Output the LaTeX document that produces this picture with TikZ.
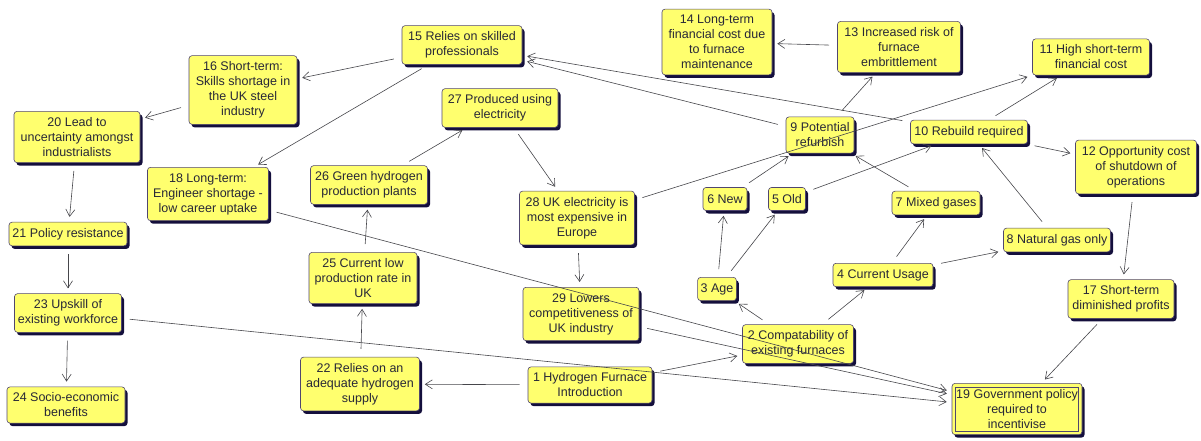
\documentclass[tikz,border=0pt]{standalone}
\usepackage{fontspec}
\setmainfont{Liberation Sans}
\usepackage{xcolor}
\usepackage{tikz}
\usetikzlibrary{positioning,arrows.meta,shadows}
\definecolor{noteyellow}{RGB}{255,255,110}
\definecolor{borderpurple}{RGB}{80,70,110}
\definecolor{shadowblue}{RGB}{20,15,60}
\definecolor{textgray}{RGB}{40,40,55}
\definecolor{linegray}{RGB}{70,70,75}

\begin{document}
\begin{tikzpicture}[x=1pt, y=-1pt, node distance=100pt, >={Straight Barb[length=7pt,width=9pt]}]
    \tikzstyle{concept} = [rectangle, rounded corners=3pt, draw=borderpurple, line width=0.6pt, fill=noteyellow, text=textgray, align=center, font=\fontsize{12.5}{15}\selectfont, inner xsep=3pt, inner ysep=6pt, minimum height=23pt, drop shadow={shadow xshift=2.5pt, shadow yshift=-3pt, fill=shadowblue, opacity=1}]
    \tikzstyle{influence} = [->, draw=linegray, line width=0.6pt, shorten <=8pt, shorten >=5pt]
    \useasboundingbox (0,0) rectangle (1201,441);

    % Introduction and supply chain
    \node [concept, minimum width=124pt] (n1) at (590,385) {1 Hydrogen Furnace\\Introduction};
    \node [concept, minimum width=119pt, left of=n1, xshift=-130pt, yshift=1pt] (n22) {22 Relies on an\\adequate hydrogen\\supply};
    \node [concept, minimum width=108pt, above of=n22, xshift=3pt, yshift=6pt] (n25) {25 Current low\\production rate in\\UK};
    \node [concept, minimum width=117pt, above of=n25, xshift=6pt, yshift=-7pt] (n26) {26 Green hydrogen\\production plants};
    \node [concept, minimum width=116pt, above of=n1, xshift=-9pt, yshift=-29pt] (n29) {29 Lowers\\competitiveness of\\UK industry};
    \node [concept, minimum width=115pt, above of=n29, xshift=-4pt, yshift=-4pt] (n28) {28 UK electricity is\\most expensive in\\Europe};
    \node [concept, minimum width=116pt, above of=n28, xshift=-77pt, yshift=10pt] (n27) {27 Produced using\\electricity};

    % Skills
    \node [concept, minimum width=120pt, above of=n27, xshift=-38pt, yshift=-37pt] (n15) {15 Relies on skilled\\professionals};
    \node [concept, minimum width=108pt, left of=n15, xshift=-119pt, yshift=-45pt] (n16) {16 Short-term:\\Skills shortage in\\the UK steel\\industry};
    \node [concept, minimum width=121pt, below of=n16, xshift=-35pt, yshift=-4pt] (n18) {18 Long-term:\\Engineer shortage -\\low career uptake};
    \node [concept, minimum width=126pt, left of=n16, xshift=-66pt, yshift=-47pt] (n20) {20 Lead to\\uncertainty amongst\\industrialists};
    \node [concept, minimum width=118pt, below of=n20, xshift=-9pt, yshift=3pt] (n21) {21 Policy resistance};
    \node [concept, minimum width=107pt, below of=n21, yshift=21pt] (n23) {23 Upskill of\\existing workforce};
    \node [concept, minimum width=118pt, below of=n23, xshift=-2pt, yshift=8pt] (n24) {24 Socio-economic\\benefits};

    % Existing furnaces
    \node [concept, minimum width=111pt, right of=n1, xshift=108pt, yshift=41pt] (n2) {2 Compatability of\\existing furnaces};
    \node [concept, minimum width=38pt, above of=n2, xshift=-81pt, yshift=-45pt] (n3) {3 Age};
    \node [concept, minimum width=100pt, right of=n3, xshift=66pt, yshift=14pt] (n4) {4 Current Usage};
    \node [concept, minimum width=44pt, above of=n3, xshift=8pt, yshift=-10pt] (n6) {6 New};
    \node [concept, minimum width=37pt, right of=n6, xshift=-38pt] (n5) {5 Old};
    \node [concept, minimum width=68pt, above of=n5, xshift=33pt, yshift=-36pt] (n9) {9 Potential\\refurbish};
    \node [concept, minimum width=88pt, right of=n5, xshift=49pt, yshift=-4pt] (n7) {7 Mixed gases};
    \node [concept, minimum width=107pt, right of=n4, xshift=74pt, yshift=35pt] (n8) {8 Natural gas only};
    \node [concept, minimum width=117pt, above of=n7, xshift=33pt, yshift=-29pt] (n10) {10 Rebuild required};

    % Costs
    \node [concept, minimum width=123pt, above of=n9, xshift=79pt, yshift=-12pt] (n13) {13 Increased risk of\\furnace\\embrittlement};
    \node [concept, minimum width=110pt, left of=n13, xshift=-82pt, yshift=5pt] (n14) {14 Long-term\\financial cost due\\to furnace\\maintenance};
    \node [concept, minimum width=117pt, right of=n10, xshift=22pt, yshift=75pt] (n11) {11 High short-term\\financial cost};
    \node [concept, minimum width=121pt, right of=n10, xshift=67pt, yshift=-35pt] (n12) {12 Opportunity cost\\of shutdown of\\operations};
    \node [concept, minimum width=106pt, below of=n12, xshift=-15pt, yshift=-32pt] (n17) {17 Short-term\\diminished profits};
    \node [concept, minimum width=130pt, below of=n17, xshift=-104pt, yshift=-10pt] (n19) {19 Government policy\\required to\\incentivise};
    \draw [draw=borderpurple, line width=0.6pt] ([shift={(4pt,-4pt)}]n19.north west) rectangle ([shift={(-4pt,4pt)}]n19.south east);

    % Arrows
    \draw [influence] (n15) -- (n16);
    \draw [influence] (n15) -- (n18);
    \draw [influence] (n16) -- (n20);
    \draw [influence] (n20) -- (n21);
    \draw [influence] (n21) -- (n23);
    \draw [influence] (n23) -- (n24);
    \draw [influence] (n23) -- (n19);
    \draw [influence] (n18) -- (n19);
    \draw [influence] (n29) -- (n19);
    \draw [influence] (n17) -- (n19);
    \draw [influence] (n12) -- (n17);
    \draw [influence] (n10) -- (n12);
    \draw [influence] (n10) -- (n11);
    \draw [influence] (n10) -- (n15);
    \draw [influence] (n9) -- (n15);
    \draw [influence] (n9) -- (n13);
    \draw [influence] (n13) -- (n14);
    \draw [influence] (n28) -- (n11);
    \draw [influence] (n27) -- (n28);
    \draw [influence] (n26) -- (n27);
    \draw [influence] (n25) -- (n26);
    \draw [influence] (n22) -- (n25);
    \draw [influence] (n1) -- (n22);
    \draw [influence] (n1) -- (n2);
    \draw [influence] (n2) -- (n3);
    \draw [influence] (n2) -- (n4);
    \draw [influence] (n3) -- (n6);
    \draw [influence] (n3) -- (n5);
    \draw [influence] (n6) -- (n9);
    \draw [influence] (n5) -- (n10);
    \draw [influence] (n7) -- (n9);
    \draw [influence] (n4) -- (n7);
    \draw [influence] (n4) -- (n8);
    \draw [influence] (n8) -- (n10);
    \draw [influence] (n28) -- (n29);
\end{tikzpicture}
\end{document}
